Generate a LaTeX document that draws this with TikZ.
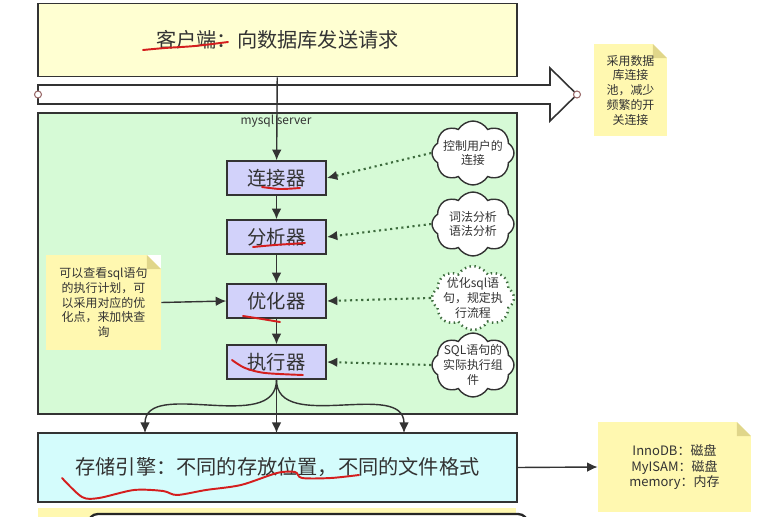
\documentclass[tikz,border=0pt]{standalone}
\usepackage{fontspec}
\setmainfont{Noto Sans CJK SC}
\usetikzlibrary{arrows.meta,shapes.symbols}

\definecolor{clientbg}{HTML}{FFFFD2}
\definecolor{serverbg}{HTML}{D6FAD6}
\definecolor{partbg}{HTML}{D2D2FA}
\definecolor{storebg}{HTML}{D4FCFC}
\definecolor{notebg}{HTML}{FFF8B0}
\definecolor{notefold}{HTML}{E0D68A}
\definecolor{linegray}{HTML}{333333}
\definecolor{dotgreen}{HTML}{3D6B3D}
\definecolor{scribred}{HTML}{D41E1E}
\definecolor{endring}{HTML}{9A6A6A}

\begin{document}
\begin{tikzpicture}[
x=0.02cm, y=-0.02cm,
every node/.style={text=linegray},
box/.style={draw=linegray, line width=0.9pt, inner sep=0pt},
part/.style={box, fill=partbg, minimum width=1.98cm, minimum height=0.68cm, font=\fontsize{11}{13}\selectfont},
bigtext/.style={font=\fontsize{11.5}{13}\selectfont},
cloudy/.style={cloud, cloud puffs=8, cloud puff arc=120, draw=linegray, line width=0.8pt, fill=white, minimum width=1.64cm, minimum height=1.28cm, inner sep=0pt},
small/.style={font=\fontsize{6.8}{8.4}\selectfont, align=center, inner sep=0pt},
note/.style={small, fill=notebg, path picture={
  \fill[white] ([xshift=-0.28cm]path picture bounding box.north east) -- (path picture bounding box.north east) -- ([yshift=-0.28cm]path picture bounding box.north east) -- cycle;
  \fill[notefold] ([xshift=-0.28cm]path picture bounding box.north east) -- ([yshift=-0.28cm]path picture bounding box.north east) -- ([xshift=-0.28cm,yshift=-0.28cm]path picture bounding box.north east) -- cycle;}},
arrow/.style={-{Latex[length=6pt,width=5.5pt]}, line width=0.8pt, draw=linegray},
dotarrow/.style={-{Latex[length=6pt,width=5.5pt,color=linegray]}, dotted, line width=1.2pt, draw=dotgreen},
scribble/.style={draw=scribred, line width=1.1pt, line cap=round}
]
\useasboundingbox (0,0) rectangle (769,517);

% client and connection pool
\node[box, fill=clientbg, line width=1.1pt, minimum width=9.58cm, minimum height=1.46cm, bigtext] (client) at (277.5,40) {客户端：向数据库发送请求};

\draw[box, fill=white] (38,85) -- (550,85) -- (550,68) -- (577,94.5) -- (550,121) -- (550,104) -- (38,104) -- cycle;
\draw[endring, fill=white, line width=0.6pt] (38,94.5) circle (0.07cm);
\draw[endring, fill=white, line width=0.6pt] (577,94.5) circle (0.07cm);

\node[note, minimum width=1.46cm, minimum height=1.84cm] (poolnote) at (630.5,90) {采用数据\\库连接\\池，减少\\频繁的开\\关连接};

% mysql server
\node[box, fill=serverbg, minimum width=9.58cm, minimum height=6.02cm] (server) at (277.5,263.5) {};
\node[small] (serverlbl) at (276,121) {mysql server};

\node[part] (conn) at (276.5,178) {连接器};
\node[part] (parser) at (276.5,237) {分析器};
\node[part] (opt) at (276.5,301) {优化器};
\node[part] (exec) at (276.5,362) {执行器};

\draw[arrow] (client) -- (conn);
\draw[arrow] (conn) -- (parser);
\draw[arrow] (parser) -- (opt);
\draw[arrow] (opt) -- (exec);

\node[cloudy] (c1) at (473,153) {};
\node[cloudy] (c2) at (473,224) {};
\node[cloudy, draw=dotgreen, dotted, line width=1.4pt] (c3) at (473,298) {};
\node[cloudy] (c4) at (473,365) {};
\node[small] (c1t) at (c1) {控制用户的\\连接};
\node[small] (c2t) at (c2) {词法分析\\语法分析};
\node[small] (c3t) at (c3) {优化sql语\\句，规定执\\行流程};
\node[small] (c4t) at (c4) {SQL语句的\\实际执行组\\件};

\draw[dotarrow] (c1.west) -- (conn.east);
\draw[dotarrow] (c2.west) -- (parser.east);
\draw[dotarrow] (c3.west) -- (opt.east);
\draw[dotarrow] (c4.west) -- (exec.east);

\node[note, minimum width=2.3cm, minimum height=1.9cm] (plannote) at (103.5,302.5) {可以查看sql语句\\的执行计划，可\\以采用对应的优\\化点，来加快查\\询};
\draw[arrow] (plannote.east) -- (opt.west);

% storage engine
\node[box, fill=storebg, minimum width=9.58cm, minimum height=1.38cm, bigtext] (store) at (277.5,467.5) {存储引擎：不同的存放位置，不同的文件格式};
\coordinate (s1) at (145,433);
\coordinate (s2) at (276.5,433);
\coordinate (s3) at (404,433);
\draw[arrow] (exec.south) to[out=-90, in=90] (s1);
\draw[arrow] (exec.south) -- (s2);
\draw[arrow] (exec.south) to[out=-90, in=90] (s3);

\node[note, font=\fontsize{7.4}{8.6}\selectfont, minimum width=3.06cm, minimum height=1.8cm] (engnote) at (674.5,467) {InnoDB：磁盘\\MyISAM：磁盘\\memory：内存};
\draw[arrow] (store.east) -- (engnote.west);

% cut off at the bottom
\begin{scope}
\clip (0,0) rectangle (769,517);
\fill[notebg] (38,508) rectangle (516,530);
\draw[fill=white, line width=1.3pt, draw=black!85, rounded corners=0.2cm] (88,514) rectangle (528,560);
\end{scope}

% red marks
\draw[scribble] plot[smooth] coordinates {(143,50) (165,48) (195,46) (228,42)};
\draw[scribble] plot[smooth] coordinates {(262,187) (280,189) (300,188)};
\draw[scribble] plot[smooth] coordinates {(253,247) (275,245) (305,243)};
\draw[scribble] plot[smooth] coordinates {(243,316) (262,319) (280,322)};
\draw[scribble] plot[smooth] coordinates {(232,360) (245,368) (265,373) (303,375)};
\draw[scribble] plot[smooth] coordinates {(62,478) (82,497) (99,498) (134,490) (163,491) (177,495) (206,490) (241,485) (277,473) (295,472) (302,478) (331,478) (359,475)};

\end{tikzpicture}
\end{document}
